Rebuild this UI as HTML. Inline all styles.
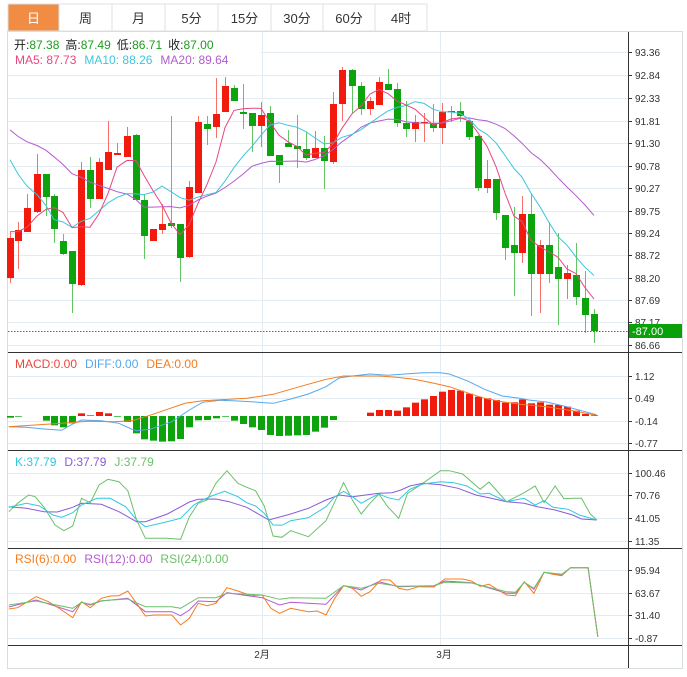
<!DOCTYPE html>
<html><head><meta charset="utf-8"><style>
body{margin:0;background:#fff;width:687px;height:677px;overflow:hidden;font-family:"Liberation Sans","Noto Sans CJK SC",sans-serif}
svg{position:absolute;left:0;top:0}
</style></head><body>
<svg id="s" width="687" height="677" xmlns="http://www.w3.org/2000/svg" font-family="Liberation Sans, Noto Sans CJK SC, sans-serif"></svg>
<script>
const S=document.getElementById('s');let h='';
const GR='#e4ecf1';
const tabs=['日','周','月','5分','15分','30分','60分','4时'];
const tx=[8,59,112,165,218,271,323,375,427];
for(let i=0;i<8;i++){h+=`<rect x="${tx[i]}" y="4" width="${tx[i+1]-tx[i]}" height="27" fill="${i?'#fff':'#f08c44'}" stroke="#dde2e6"/>`;
h+=`<text x="${(tx[i]+tx[i+1])/2}" y="23" text-anchor="middle" font-size="13" fill="${i?'#333':'#fff'}">${tabs[i]}</text>`;}
h+=`<rect x="7.5" y="31.5" width="675" height="637" fill="none" stroke="#d8dde0"/>`;
const pl=[[93.36,52],[92.84,75],[92.33,98],[91.81,121],[91.30,143],[90.78,166],[90.27,188],[89.75,211],[89.24,233],[88.72,255],[88.20,278],[87.69,300],[87.17,322],[86.66,345]];
pl.forEach(p=>{h+=`<line x1="8" x2="628" y1="${p[1]+.5}" y2="${p[1]+.5}" stroke="${GR}"/><line x1="628" x2="632" y1="${p[1]+.5}" y2="${p[1]+.5}" stroke="#333"/><text x="635" y="${p[1]+4}" font-size="10" fill="#333">${p[0].toFixed(2)}</text>`});
[262,440].forEach(x=>{h+=`<line x1="${x+.5}" x2="${x+.5}" y1="32" y2="645" stroke="${GR}"/>`});
const panels=[[[1.12,376],[0.49,398],[-0.14,421],[-0.77,443]],[[100.46,473],[70.76,495],[41.05,518],[11.35,541]],[[95.94,570],[63.67,593],[31.40,615],[-0.87,638]]];
panels.forEach(P=>P.forEach(p=>{h+=`<line x1="8" x2="628" y1="${p[1]+.5}" y2="${p[1]+.5}" stroke="${GR}"/><line x1="628" x2="632" y1="${p[1]+.5}" y2="${p[1]+.5}" stroke="#333"/><text x="635" y="${p[1]+4}" font-size="10" fill="#333">${p[0].toFixed(2)}</text>`}));
[352,450,548,645].forEach(y=>{h+=`<line x1="8" x2="682" y1="${y+.5}" y2="${y+.5}" stroke="#333"/>`});
h+=`<line x1="628.5" x2="628.5" y1="32" y2="668" stroke="#333"/>`;
const C=[[10,238,278,232,283,1],[18,230,241,222,269,1],[27,208,232,194,232,1],[37,174,212,154,213,1],[46,174,197,174,216,0],[54,196,229,194,243,0],[63,241,254,234,255,0],[72,251,284,251,313,0],[81,170,285,162,286,1],[90,170,199,157,208,0],[99,162,199,158,199,1],[108,152,170,121,170,1],[117,153,155,143,155,1],[127,136,157,127,157,1],[136,135,200,134,200,0],[144,200,236,194,259,0],[153,229,241,229,241,1],[162,224,230,204,234,1],[171,223,226,116,228,0],[180,224,258,224,282,0],[189,187,257,181,258,1],[198,122,193,116,193,1],[207,124,129,116,145,0],[216,114,127,78,138,1],[225,86,112,77,112,1],[234,88,101,85,101,0],[243,112,114,84,129,0],[252,113,126,113,152,0],[261,115,126,102,147,1],[270,113,156,106,156,0],[279,155,165,155,183,0],[288,143,147,130,147,0],[297,146,149,115,168,0],[306,149,158,132,160,0],[315,148,158,131,158,1],[324,148,161,136,189,0],[333,104,162,92,164,1],[342,70,104,67,121,1],[352,70,86,69,113,0],[361,86,109,82,115,0],[370,101,109,97,115,1],[379,82,105,77,105,1],[388,84,90,69,90,0],[397,89,123,83,127,0],[406,123,129,101,137,0],[415,122,129,115,142,1],[424,122,123,113,142,1],[433,123,128,104,132,0],[442,112,128,103,144,1],[451,111,112,106,122,1],[460,111,116,102,122,0],[469,121,137,120,140,0],[478,136,188,135,191,0],[487,179,188,160,193,1],[496,179,213,179,220,0],[505,215,248,215,260,0],[514,245,253,207,296,0],[522,214,253,196,263,1],[531,214,274,193,316,0],[540,245,274,240,313,1],[549,245,274,222,283,0],[558,267,279,233,325,0],[567,273,279,265,299,1],[576,275,297,243,305,0],[585,298,315,271,333,0],[594,314,331,309,343,0]];
const closes=C.map(c=>c[5]?c[1]:c[2]);
C.forEach(c=>{const col=c[5]?'#f21a0c':'#0ca30c',wc=c[5]?'#f6706a':'#62c462';
h+=`<line x1="${c[0]+.5}" x2="${c[0]+.5}" y1="${c[3]}" y2="${c[4]}" stroke="${wc}"/><rect x="${c[0]-3}" y="${c[1]}" width="7" height="${Math.max(1.5,c[2]-c[1])}" fill="${col}"/>`});
const fake=[...Array(10).fill(100),...Array(5).fill(88),...Array(4).fill(230)];
const all=fake.concat(closes);
function ma(n){return C.map((c,i)=>{const j=i+19;let s=0;for(let k=j-n+1;k<=j;k++)s+=all[k];return [c[0],s/n]})}
const pl2=(pts,col)=>`<polyline fill="none" stroke="${col}" stroke-width="1" points="${pts.map(p=>p[0].toFixed(1)+','+p[1].toFixed(1)).join(' ')}"/>`;
h+=pl2(ma(20),'#b25ccf')+pl2(ma(10),'#3ec6dc')+pl2(ma(5),'#e8477e');
h+=`<line x1="8" x2="628" y1="331.5" y2="331.5" stroke="#1a9e1a" stroke-dasharray="1.5,1.5"/><rect x="629" y="324" width="53" height="14" fill="#0aa00a"/><text x="632" y="335" font-size="11" fill="#fff">-87.00</text>`;
h+=`<rect x="8" y="32" width="253" height="35" fill="#fff"/>`;
h+=`<text x="14" y="49" font-size="12" fill="#222">开:<tspan fill="#1a9e1a">87.38</tspan><tspan dx="6">高:</tspan><tspan fill="#1a9e1a">87.49</tspan><tspan dx="6">低:</tspan><tspan fill="#1a9e1a">86.71</tspan><tspan dx="6">收:</tspan><tspan fill="#1a9e1a">87.00</tspan></text>`;
h+=`<text x="15" y="64" font-size="12" fill="#e8477e">MA5: 87.73<tspan fill="#3ec6dc" dx="8">MA10: 88.26</tspan><tspan fill="#b25ccf" dx="8">MA20: 89.64</tspan></text>`;
const hb=[203,200,197,197,212,226,232,220,190,196,186,190,200,216,250,268,272,275,274,267,232,211,210,205,200,212,222,232,240,255,258,257,256,255,245,233,210,198,199,199,188,180,180,182,172,158,148,138,125,120,122,131,140,145,150,158,157,148,160,157,164,165,170,182,192,196];
hb.forEach((v,i)=>{const x=C[i][0];const y=350+v/3,z=416;if(Math.abs(y-z)<.5)return;
h+=`<rect x="${x-3}" y="${Math.min(y,z)}" width="7" height="${Math.abs(y-z)}" fill="${y<z?'#f21a0c':'#0ca30c'}"/>`});
const T=(arr,y0)=>arr.map(p=>[p[0]/2.27,y0+p[1]/3]);
h+=pl2(T([[20,230],[60,232],[100,237],[140,241],[165,222],[185,210],[230,212],[270,220],[300,238],[310,242],[340,238],[390,215],[430,180],[460,157],[500,151],[540,153],[570,155],[600,158],[620,160],[660,147],[700,132],[740,110],[770,84],[800,78],[840,72],[880,76],[920,72],[960,68],[1000,68],[1020,72],[1060,92],[1100,118],[1140,138],[1180,145],[1200,150],[1240,156],[1280,168],[1320,182],[1354,194]],350),'#55a8ee');
h+=pl2(T([[20,230],[80,225],[140,220],[200,214],[260,215],[300,212],[340,196],[380,178],[420,160],[460,152],[500,149],[560,145],[620,133],[680,110],[740,88],[780,78],[860,78],[900,82],[940,88],[980,98],[1020,110],[1060,128],[1100,145],[1140,155],[1180,163],[1240,170],[1300,182],[1354,196]],350),'#f57c1f');
h+=`<text x="15" y="368" font-size="12"><tspan fill="#f0443a">MACD:0.00</tspan><tspan fill="#55a8ee" dx="8">DIFF:0.00</tspan><tspan fill="#f57c1f" dx="8">DEA:0.00</tspan></text>`;
h+=pl2(T([[20,185],[40,160],[65,135],[80,140],[100,172],[125,225],[145,242],[165,228],[185,145],[205,158],[225,105],[245,88],[270,95],[290,122],[310,210],[330,265],[380,265],[410,268],[430,200],[450,160],[470,150],[490,100],[515,62],[540,100],[560,112],[580,122],[600,168],[620,258],[640,262],[660,242],[700,260],[740,212],[760,155],[780,98],[800,150],[820,192],[840,160],[860,132],[880,170],[905,205],[925,130],[960,100],[1000,62],[1020,62],[1050,72],[1090,118],[1110,96],[1150,155],[1190,128],[1215,108],[1235,158],[1260,108],[1280,146],[1300,145],[1320,145],[1340,192],[1355,210]],450),'#6cc06c');
h+=pl2(T([[20,170],[60,175],[100,185],[130,186],[165,172],[185,160],[230,163],[270,185],[310,215],[330,215],[380,192],[430,156],[450,148],[490,147],[520,155],[560,172],[610,210],[660,192],[700,175],[740,150],[770,135],[800,140],[830,135],[860,130],[890,128],[910,120],[930,108],[960,100],[1000,104],[1040,115],[1080,135],[1110,143],[1150,155],[1190,160],[1220,170],[1260,180],[1300,195],[1320,207],[1355,210]],450),'#8c5ad8');
h+=pl2(T([[20,172],[60,160],[90,168],[120,195],[140,202],[165,188],[185,165],[220,145],[250,145],[285,170],[310,210],[330,230],[370,218],[410,205],[440,165],[460,150],[480,138],[510,124],[540,140],[560,158],[580,168],[600,190],[620,225],[640,226],[660,212],[700,203],[740,170],[760,140],[780,124],[800,140],[820,160],[840,145],[860,132],[880,143],[905,150],[930,118],[960,102],[1000,95],[1030,98],[1060,108],[1090,132],[1110,130],[1150,155],[1170,150],[1190,145],[1215,165],[1235,152],[1255,172],[1290,178],[1315,195],[1355,210]],450),'#30c8e0');
h+=`<text x="15" y="466" font-size="12"><tspan fill="#30c8e0">K:37.79</tspan><tspan fill="#8c5ad8" dx="8">D:37.79</tspan><tspan fill="#6cc06c" dx="8">J:37.79</tspan></text>`;
h+=pl2(T([[20,186],[82,165],[165,200],[185,172],[205,180],[230,168],[290,160],[330,200],[390,200],[410,212],[430,195],[450,168],[490,170],[515,143],[595,158],[635,180],[660,172],[740,178],[780,122],[820,135],[860,110],[905,125],[985,122],[1010,108],[1070,113],[1150,145],[1170,145],[1190,112],[1212,133],[1235,82],[1275,90],[1295,68],[1335,68],[1357,275]],545),'#b55ad0');
h+=pl2(T([[20,192],[40,188],[82,155],[110,170],[140,195],[165,218],[185,170],[205,188],[230,160],[250,153],[270,152],[290,138],[310,175],[330,213],[350,210],[390,210],[410,240],[430,220],[450,175],[470,182],[490,175],[515,128],[540,138],[570,152],[595,150],[615,190],[635,205],[660,190],[700,200],[720,198],[740,210],[760,160],[780,122],[800,130],[820,154],[840,140],[865,104],[885,105],[905,130],[925,135],[950,125],[985,126],[1010,102],[1050,102],[1070,108],[1090,124],[1110,118],[1150,150],[1170,152],[1190,110],[1212,145],[1235,82],[1255,88],[1275,92],[1295,68],[1335,68],[1357,275]],545),'#f57c1f');
h+=pl2(T([[20,180],[82,168],[165,190],[185,172],[205,178],[230,167],[290,162],[330,185],[390,185],[410,190],[450,158],[490,158],[515,145],[595,150],[635,163],[660,158],[740,160],[780,122],[820,130],[860,115],[905,124],[985,122],[1010,112],[1070,114],[1150,140],[1170,142],[1190,112],[1212,130],[1235,82],[1275,88],[1295,68],[1335,68],[1357,275]],545),'#6cc06c');
h+=`<text x="15" y="563" font-size="12"><tspan fill="#f57c1f">RSI(6):0.00</tspan><tspan fill="#b55ad0" dx="8">RSI(12):0.00</tspan><tspan fill="#6cc06c" dx="8">RSI(24):0.00</tspan></text>`;
h+=`<text x="262" y="658" font-size="10" text-anchor="middle" fill="#333">2月</text><text x="444" y="658" font-size="10" text-anchor="middle" fill="#333">3月</text>`;
S.innerHTML=h;
</script>
</body></html>
